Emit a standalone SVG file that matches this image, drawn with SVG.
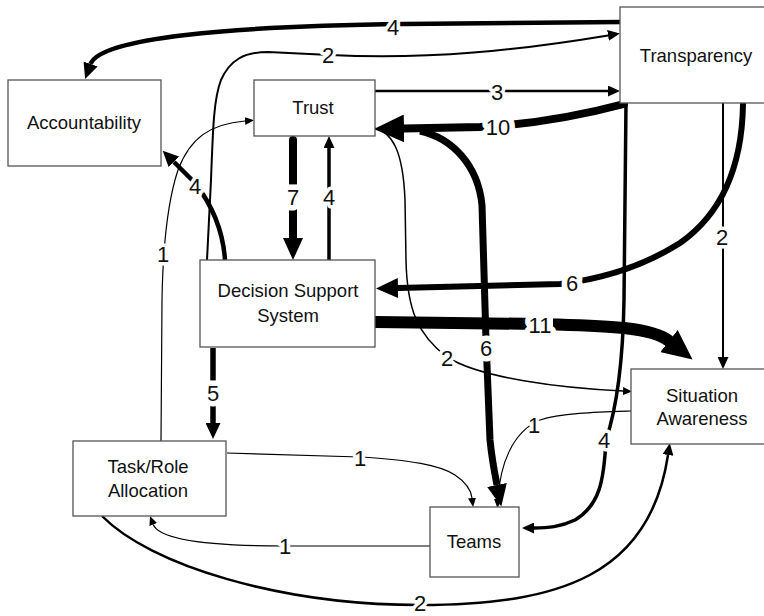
<svg xmlns="http://www.w3.org/2000/svg" width="764" height="616" viewBox="0 0 764 616">
<defs>
<style>
.box{fill:#fff;stroke:#555;stroke-width:1.3}
.nt{font-family:"Liberation Sans",Arial,sans-serif;font-size:18.5px;fill:#111;text-anchor:middle}
.e{fill:none;stroke:#000}
.lb{font-family:"Liberation Sans",Arial,sans-serif;font-size:22px;fill:#111;text-anchor:middle;dominant-baseline:central;stroke:#fff;stroke-width:7;paint-order:stroke;stroke-linejoin:round}
.lb.w{stroke-width:11}
.bg{fill:#fff}
</style>
<marker id="s" markerUnits="userSpaceOnUse" viewBox="0 0 9 8" markerWidth="9" markerHeight="8" refX="0" refY="4" orient="auto"><path d="M0,0 L9,4 L0,8 z" fill="#000"/></marker>
<marker id="m" markerUnits="userSpaceOnUse" viewBox="0 0 12 11" markerWidth="12" markerHeight="11" refX="0" refY="5.5" orient="auto"><path d="M0,0 L12,5.5 L0,11 z" fill="#000"/></marker>
<marker id="l" markerUnits="userSpaceOnUse" viewBox="0 0 16 15" markerWidth="16" markerHeight="15" refX="0" refY="7.5" orient="auto"><path d="M0,0 L16,7.5 L0,15 z" fill="#000"/></marker>
<marker id="xl" markerUnits="userSpaceOnUse" viewBox="0 0 22 20" markerWidth="22" markerHeight="20" refX="0" refY="10" orient="auto"><path d="M0,0 L22,10 L0,20 z" fill="#000"/></marker>
<marker id="xxl" markerUnits="userSpaceOnUse" viewBox="0 0 30 28" markerWidth="30" markerHeight="28" refX="0" refY="14" orient="auto"><path d="M0,0 L30,14 L0,28 z" fill="#000"/></marker>
</defs>
<rect width="764" height="616" fill="#fff"/>
<g id="connectors">
<path class="e" stroke-width="4.5" d="M621,22 L405,24 C230,26 100,38 90.6,64" marker-end="url(#l)"/>
<path class="e" stroke-width="2" d="M207,260 L211,180 C213,125 214,98 221,80 C230,60 244,52 268,52 L330,55 C430,60 520,50 608,35.4" marker-end="url(#m)"/>
<path class="e" stroke-width="2.5" d="M375,91 L608,91" marker-end="url(#m)"/>
<path class="e" stroke-width="8" stroke-linecap="round" d="M624,104 C590,113 540,124 480,127 L404,128.5" marker-end="url(#xxl)"/>
<path class="e" stroke-width="7" d="M420,131 C452,138 478,165 482,205 L486,340 L490,440 C492,460 495,475 497,485" marker-end="url(#xl)"/>
<path class="e" stroke-width="8" stroke-linecap="round" d="M293,140 L293,238" marker-end="url(#xl)"/>
<path class="e" stroke-width="3.5" d="M329,260 L329,148" marker-end="url(#m)"/>
<path class="e" stroke-width="4.5" d="M225,260 C223,230 212,205 195,183 L174,162" marker-end="url(#l)"/>
<path class="e" stroke-width="1.2" d="M161,441 L162,300 C163,240 168,200 178,170 C190,138 210,124 245,121" marker-end="url(#s)"/>
<path class="e" stroke-width="5.5" d="M213,348 L213,423" marker-end="url(#l)"/>
<path class="e" stroke-width="6" stroke-linecap="round" d="M743,104 C742,170 720,215 680,243 C650,262 610,278 560,284 L398,288" marker-end="url(#xl)"/>
<path class="e" stroke-width="2" d="M723,103 L723,357" marker-end="url(#m)"/>
<path class="e" stroke-width="12" stroke-linecap="round" d="M376,322 L540,324 C600,326 650,326 669,341" marker-end="url(#xxl)"/>
<path class="e" stroke-width="1.5" d="M374,128 C392,132 403,150 405,200 L406,260 C407,310 418,335 447,357 C480,378 560,388 623,391" marker-end="url(#s)"/>
<path class="e" stroke-width="3.5" d="M626,103 L624,300 C623,360 616,410 606,440 C604,480 600,505 575,520 C560,527 548,528 534,528" marker-end="url(#m)"/>
<path class="e" stroke-width="1.1" d="M631,411 C600,412 560,413 540,420 C512,432 500,465 498,499" marker-end="url(#s)"/>
<path class="e" stroke-width="1.2" d="M227,453 L360,457 C410,460 440,465 455,475 C467,483 471,490 472,498" marker-end="url(#s)"/>
<path class="e" stroke-width="1.2" d="M430,546 L285,546 C220,546 160,542 153.2,524.5" marker-end="url(#s)"/>
<path class="e" stroke-width="2.5" d="M102,516 C150,565 280,605 420,605 C560,605 650,575 668,455" marker-end="url(#m)"/>
<rect class="bg" x="485" y="116" width="26" height="23"/>
<rect class="bg" x="527" y="314" width="26" height="23"/>
<text class="lb" x="393" y="27">4</text>
<text class="lb" x="328" y="55">2</text>
<text class="lb" x="497" y="92">3</text>
<text class="lb w" x="498" y="127">10</text>
<text class="lb w" x="486" y="348">6</text>
<text class="lb w" x="293" y="197">7</text>
<text class="lb" x="329" y="197">4</text>
<text class="lb" x="195" y="186">4</text>
<text class="lb" x="163" y="254">1</text>
<text class="lb w" x="213" y="393">5</text>
<text class="lb w" x="572" y="283">6</text>
<text class="lb" x="722" y="237">2</text>
<text class="lb w" x="540" y="325">11</text>
<text class="lb" x="447" y="358">2</text>
<text class="lb" x="604" y="440">4</text>
<text class="lb" x="534" y="425">1</text>
<text class="lb" x="360" y="458">1</text>
<text class="lb" x="285" y="546">1</text>
<text class="lb" x="420" y="603">2</text>
</g>
<g id="accountability"><rect class="box" x="8" y="80" width="153" height="86"/><text class="nt" x="84" y="129">Accountability</text></g>
<g id="trust"><rect class="box" x="254" y="80" width="121" height="56"/><text class="nt" x="313" y="114">Trust</text></g>
<g id="transparency"><rect class="box" x="620" y="7" width="160" height="96"/><text class="nt" x="696" y="62">Transparency</text></g>
<g id="dss"><rect class="box" x="200" y="260" width="175" height="87"/><text class="nt" x="288" y="297">Decision Support</text><text class="nt" x="288" y="322">System</text></g>
<g id="situation-awareness"><rect class="box" x="631" y="369" width="140" height="75"/><text class="nt" x="702" y="402">Situation</text><text class="nt" x="702" y="425">Awareness</text></g>
<g id="task-role"><rect class="box" x="73" y="441" width="153" height="75"/><text class="nt" x="148" y="473">Task/Role</text><text class="nt" x="148" y="497">Allocation</text></g>
<g id="teams"><rect class="box" x="430" y="507" width="89" height="70"/><text class="nt" x="474" y="548">Teams</text></g>
</svg>
